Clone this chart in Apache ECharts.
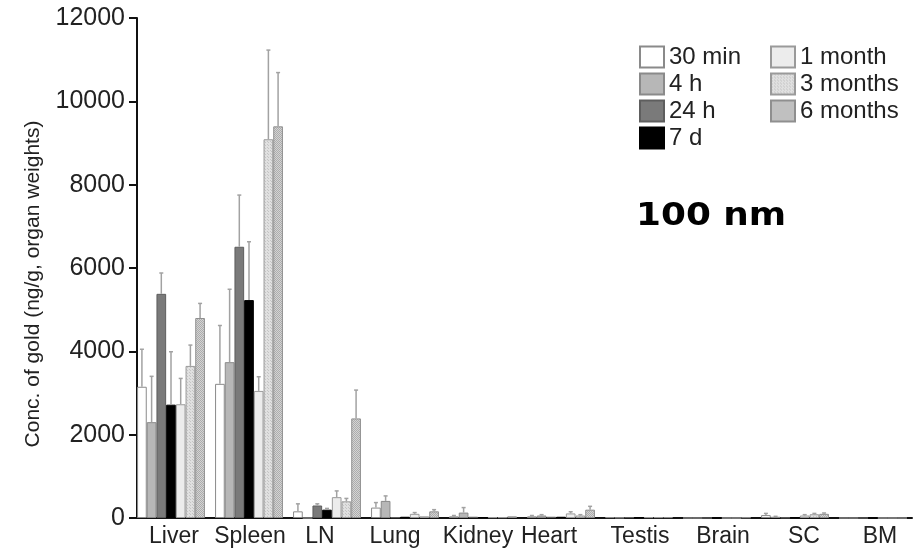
<!DOCTYPE html>
<html>
<head>
<meta charset="utf-8">
<script src="https://cdn.jsdelivr.net/npm/echarts@6/dist/echarts.min.js"></script>
<style>
  html, body { margin: 0; padding: 0; background: #fff; }
  #chart { width: 924px; height: 551px; }
</style>
</head>
<body>
<div id="chart"></div>
<script>
// Organs along the x axis
const organs = ['Liver', 'Spleen', 'LN', 'Lung', 'Kidney', 'Heart', 'Testis', 'Brain', 'SC', 'BM'];
// Time points after injection
const timePoints = ['30 min', '4 h', '24 h', '7 d', '1 month', '3 months', '6 months'];
const yTicks = [0, 2000, 4000, 6000, 8000, 10000, 12000];

// Mean gold concentration (ng/g organ weight) per time point
const min30   = [3150, 3220, 160, 250, 40, 40, 20, 0, 70, 0];
const h4      = [2300, 3740, 0, 410, 130, 60, 10, 0, 30, 0];
const h24     = [5380, 6510, 300, 20, 30, 30, 20, 0, 10, 0];
const d7      = [2720, 5230, 200, 30, 20, 30, 10, 0, 10, 0];
const month1  = [2730, 3050, 500, 100, 20, 110, 20, 0, 60, 0];
const months3 = [3650, 9090, 400, 40, 20, 60, 20, 0, 90, 0];
const months6 = [4800, 9400, 2390, 160, 40, 200, 20, 15, 100, 0];

// Standard deviations (upper error bars)
const sdMin30   = [900, 1400, 180, 120, 20, 20, 0, 0, 40, 0];
const sdH4      = [1100, 1750, 0, 120, 120, 20, 0, 0, 10, 0];
const sdH24     = [500, 1240, 40, 0, 0, 0, 0, 0, 0, 0];
const sdD7      = [1270, 1400, 30, 0, 0, 0, 0, 0, 0, 0];
const sdMonth1  = [620, 340, 150, 30, 0, 40, 0, 0, 20, 0];
const sdMonths3 = [500, 2140, 70, 0, 0, 20, 0, 0, 20, 0];
const sdMonths6 = [350, 1290, 680, 40, 0, 80, 0, 0, 20, 0];

const means = [min30, h4, h24, d7, month1, months3, months6];
const sds = [sdMin30, sdH4, sdH24, sdD7, sdMonth1, sdMonths3, sdMonths6];

// Horizontal nudges (px) of the organ labels relative to their group centres
const labelNudge = [3, 1, -7, -10, -5, -12, 1, 6, 9, 7];

// Small repeating textures for the long-term bars
function makePattern(base, dot, step) {
  const c = document.createElement('canvas');
  c.width = step; c.height = step;
  const ctx = c.getContext('2d');
  ctx.fillStyle = base;
  ctx.fillRect(0, 0, step, step);
  ctx.fillStyle = dot;
  ctx.fillRect(0, 0, 1, 1);
  ctx.fillRect(Math.floor(step / 2), Math.floor(step / 2), 1, 1);
  return { image: c, repeat: 'repeat' };
}

const fills = [
  '#ffffff',
  '#b7b7b7',
  '#7a7a7a',
  '#000000',
  '#ececec',
  makePattern('#e0e0e0', '#c4c4c4', 3),
  makePattern('#d4d4d4', '#acacac', 2)
];
const borders = ['#8a8a8a', '#8a8a8a', '#5e5e5e', '#000000', '#9a9a9a', '#9a9a9a', '#8f8f8f'];

const FONT = "'Liberation Sans', Arial, sans-serif";
const GAP = 0.13;

const barSeries = timePoints.map((name, i) => ({
  name: name,
  type: 'bar',
  data: means[i],
  barGap: '0%',
  barCategoryGap: (GAP * 100) + '%',
  itemStyle: { color: fills[i], borderColor: borders[i], borderWidth: 1 },
  emphasis: { disabled: true },
  z: 2
}));

// Error bar items: [organ index, time index, mean, sd]
const errData = [];
for (let s = 0; s < timePoints.length; s++) {
  for (let c = 0; c < organs.length; c++) {
    if (sds[s][c] > 0) errData.push([c, s, means[s][c], sds[s][c]]);
  }
}

const errorSeries = {
  type: 'custom',
  data: errData,
  silent: true,
  z: 3,
  renderItem: function (params, api) {
    const c = api.value(0), s = api.value(1), m = api.value(2), sd = api.value(3);
    const band = api.size([1, 0])[0];
    const bw = band * (1 - GAP) / timePoints.length;
    const cx = api.coord([c, 0])[0] - bw * timePoints.length / 2 + (s + 0.5) * bw;
    const y1 = api.coord([c, m])[1];
    const y2 = api.coord([c, m + sd])[1];
    const style = { stroke: '#a2a2a2', lineWidth: 1.5 };
    return {
      type: 'group',
      children: [
        { type: 'line', shape: { x1: cx, y1: y1, x2: cx, y2: y2 }, style: style },
        { type: 'line', shape: { x1: cx - 2, y1: y2, x2: cx + 2, y2: y2 }, style: style }
      ]
    };
  }
};

// Rich styles that shift each organ label sideways by padding one side
const labelRich = {};
labelNudge.forEach((d, i) => {
  labelRich['o' + i] = {
    fontFamily: FONT, fontSize: 23, color: '#222',
    padding: d >= 0 ? [0, 0, 0, 2 * d] : [0, -2 * d, 0, 0]
  };
});

const legendBase = {
  orient: 'vertical',
  top: 40,
  itemWidth: 24, itemHeight: 21, itemGap: 3,
  icon: 'rect',
  textStyle: { fontFamily: FONT, fontSize: 24, color: '#222' },
  selectedMode: false
};

const chart = echarts.init(document.getElementById('chart'), null, { renderer: 'canvas' });
chart.setOption({
  animation: false,
  backgroundColor: '#ffffff',
  grid: { left: 132, right: 12, top: 18, bottom: 33 },
  legend: [
    Object.assign({}, legendBase, { data: timePoints.slice(0, 4), left: 634 }),
    Object.assign({}, legendBase, { data: timePoints.slice(4), left: 765 })
  ],
  xAxis: {
    type: 'category',
    data: organs,
    axisLine: { lineStyle: { color: '#111', width: 2 } },
    axisTick: { show: false },
    axisLabel: {
      fontFamily: FONT, fontSize: 23, color: '#222', margin: 7, interval: 0,
      formatter: function (v, i) { return '{o' + i + '|' + v + '}'; },
      rich: labelRich
    }
  },
  yAxis: {
    type: 'value',
    min: yTicks[0], max: yTicks[yTicks.length - 1], interval: 2000,
    offset: -5,
    axisLine: { show: true, lineStyle: { color: '#111', width: 2 } },
    axisTick: { show: true, length: 8, lineStyle: { color: '#111', width: 2 } },
    splitLine: { show: false },
    axisLabel: {
      fontFamily: FONT, fontSize: 25, color: '#222', margin: 12,
      formatter: function (v) { return String(v); }
    }
  },
  graphic: [
    {
      type: 'text',
      x: 33, y: 284,
      rotation: Math.PI / 2,
      style: {
        text: 'Conc. of gold (ng/g, organ weights)',
        fontFamily: FONT,
        fontSize: 21,
        fill: '#222',
        align: 'center',
        verticalAlign: 'middle'
      }
    },
    {
      type: 'text',
      x: 636, y: 217,
      scaleX: 1.12,
      style: {
        text: '100 nm',
        fontFamily: "'DejaVu Sans', Verdana, sans-serif",
        fontWeight: 'bold',
        fontSize: 32,
        fill: '#000',
        align: 'left',
        verticalAlign: 'middle'
      }
    }
  ],
  series: barSeries.concat([errorSeries])
});
</script>
</body>
</html>
